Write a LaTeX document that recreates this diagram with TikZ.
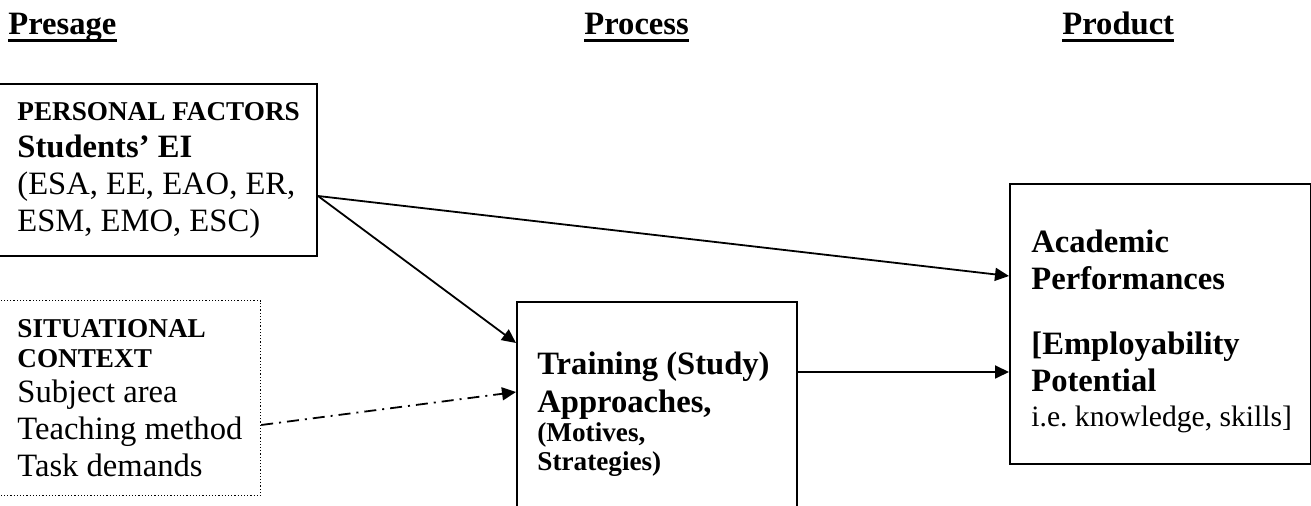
\documentclass[tikz,border=0pt]{standalone}
\usepackage{fontspec}
\setmainfont{Liberation Serif}
\usetikzlibrary{positioning,calc,arrows.meta}
\frenchspacing

\newcommand{\bodysize}{\fontsize{16.3}{18.5}\selectfont}
\newcommand{\smallsize}{\fontsize{13.6}{15}\selectfont}
\newcommand{\notesize}{\fontsize{14.8}{17}\selectfont}

\begin{document}
\begin{tikzpicture}[x=0.5pt, y=-0.5pt,
    box/.style={draw, line width=1pt, rectangle, anchor=north west, inner sep=0pt},
    ctxbox/.style={box, line width=0.6pt, dash pattern=on 0.6pt off 1pt},
    txt/.style={anchor=west, align=left, inner sep=0pt, font=\bodysize},
    hdr/.style={anchor=base west, inner sep=0pt, font=\bodysize\bfseries},
    uline/.style={line width=1.5pt},
    arr/.style={line width=0.9pt, -{Triangle[length=7pt,width=6.5pt]}},
    dasharr/.style={arr, dash pattern=on 6pt off 3pt on 1pt off 3pt}]
    \useasboundingbox (0,0) rectangle (1311,506);

    % column headers
    \node [hdr] (presage) at (8,35) {Presage};
    \node [hdr] (process) at (584,35) {Process};
    \node [hdr] (product) at (1062,35) {Product};
    \foreach \h in {presage,process,product}
        \draw [uline] ([yshift=-3pt]\h.base west) -- ([yshift=-3pt]\h.base east);

    % boxes
    \node [box, minimum width=159.5pt, minimum height=86pt] (pf) at (-3,83) {};
    \node [ctxbox, minimum width=131.5pt, minimum height=97.5pt] (sc) at (-3,300) {};
    \node [box, minimum width=140pt, minimum height=119.5pt] (tr) at (516,301) {};
    \node [box, minimum width=150.5pt, minimum height=140pt] (pd) at (1009,183) {};

    % box texts
    \node [txt] (pftext) at ([xshift=10pt]pf.west)
        {{\smallsize\bfseries PERSONAL FACTORS}\\
         \textbf{Students’ EI}\\
         (ESA, EE, EAO, ER,\\
         ESM, EMO, ESC)};
    \node [txt] (sctext) at ([xshift=10pt]sc.west)
        {{\smallsize\bfseries SITUATIONAL}\\[-3.5pt]
         {\smallsize\bfseries CONTEXT}\\[-1pt]
         Subject area\\
         Teaching method\\
         Task demands};
    \node [txt, font=\bodysize\bfseries] (trtext) at ([xshift=10.5pt,yshift=3.5pt]tr.west)
        {Training (Study)\\[0.5pt]
         Approaches,\\[-4pt]
         {\smallsize (Motives,}\\[-4pt]
         {\smallsize Strategies)}};
    \node [txt] (pdtext) at ([xshift=11pt,yshift=-3.5pt]pd.west)
        {\textbf{Academic}\\
         \textbf{Performances}\\[14pt]
         \textbf{[Employability}\\
         \textbf{Potential}\\[-1pt]
         {\notesize i.e. knowledge, skills]}};

    % connectors
    \coordinate (pfout) at ($(pf.north east)+(0,113)$);
    \coordinate (pdin) at ($(pd.north west)+(0,93)$);
    \coordinate (trin) at ($(tr.north west)+(0,42)$);
    \coordinate (scout) at ($(sc.north east)+(0,125)$);
    \coordinate (trin2) at ($(tr.north west)+(0,91)$);
    \coordinate (trout) at ($(tr.north east)+(0,71)$);

    \draw [arr] (pfout) -- (pdin);
    \draw [arr] (pfout) -- (trin);
    \draw [dasharr] (scout) -- (trin2);
    \draw [arr] (trout) -- (trout -| pd.west);
\end{tikzpicture}
\end{document}
